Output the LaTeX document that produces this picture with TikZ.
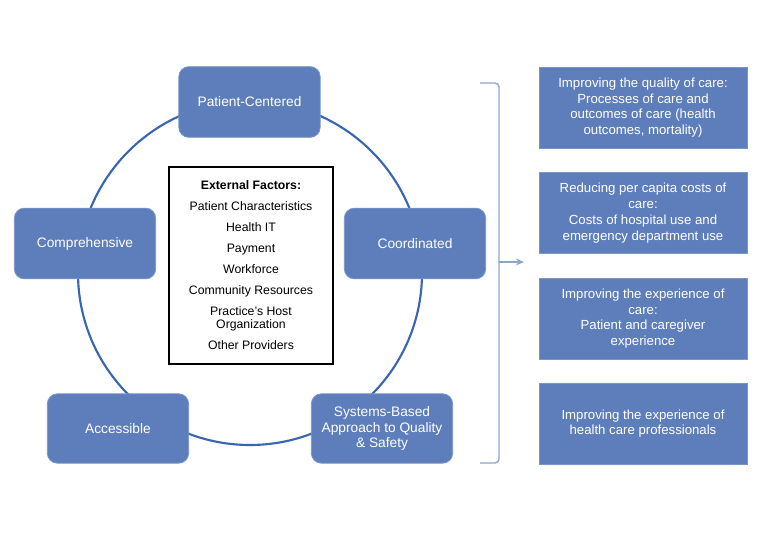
\documentclass[tikz,border=0pt]{standalone}
\usepackage{fontspec}
\setmainfont{Liberation Sans}
\usetikzlibrary{arrows.meta}
\definecolor{boxblue}{RGB}{94,126,187}
\definecolor{boxedge}{RGB}{120,150,200}
\definecolor{ringblue}{RGB}{58,102,176}
\definecolor{brack}{RGB}{140,165,205}
\begin{document}
\begin{tikzpicture}[x=0.75pt,y=-0.75pt,
  pillar/.style={draw=boxedge,line width=0.6pt,fill=boxblue,rounded corners=7.5pt,
    minimum width=106pt,minimum height=53pt,inner sep=2pt,text=white,align=center,
    font=\fontsize{10.3}{11.3}\selectfont},
  goal/.style={draw=boxedge,line width=0.5pt,fill=boxblue,
    minimum width=156pt,minimum height=60.5pt,inner sep=2pt,text=white,align=center,
    font=\fontsize{9.9}{11.8}\selectfont},
  extbox/.style={draw=black,line width=1.4pt,fill=white,minimum width=123pt,minimum height=148pt,
    align=center,font=\fontsize{9.2}{9.75}\selectfont}]
\useasboundingbox (0,0) rectangle (767,535);
\fill[white] (0,0) rectangle (767,535);
% ring
\draw[ringblue,line width=1.6pt] (250,273) circle[radius=129pt];
% external factors
\node[extbox] (ext) at (251,265.5) {\textbf{External Factors:}\\[6pt]
Patient Characteristics\\[6pt]
Health IT\\[6pt]
Payment\\[6pt]
Workforce\\[6pt]
Community Resources\\[6pt]
Practice's Host\\Organization\\[6pt]
Other Providers};
% pillars
\node[pillar] (pc) at (249.5,102) {Patient-Centered};
\node[pillar] (comp) at (85,243.5) {Comprehensive};
\node[pillar] (coord) at (415,243.5) {Coordinated};
\node[pillar,minimum height=52pt] (acc) at (118,428.5) {Accessible};
\node[pillar,minimum height=52pt] (sys) at (382,428.5) {Systems-Based\\Approach to Quality\\\& Safety};
% goals
\node[goal] (g1) at (643,107.5) {Improving the quality of care:\\Processes of care and\\outcomes of care (health\\outcomes, mortality)};
\node[goal] (g2) at (643,213) {Reducing per capita costs of\\care:\\Costs of hospital use and\\emergency department use};
\node[goal] (g3) at (643,318.5) {Improving the experience of\\care:\\Patient and caregiver\\experience};
\node[goal] (g4) at (643,423.5) {Improving the experience of\\health care professionals};
% bracket and arrow
\coordinate (bt) at (480,83);
\coordinate (bb) at (480,463);
\coordinate (bm) at (499,262);
\coordinate (tip) at (524,262);
\draw[brack,line width=1pt,rounded corners=3pt] (bt) -- (499,83) -- (499,463) -- (bb);
\draw[brack,line width=1pt,-{Stealth[length=6pt,width=5pt]}] (bm) -- (tip);
\end{tikzpicture}
\end{document}
